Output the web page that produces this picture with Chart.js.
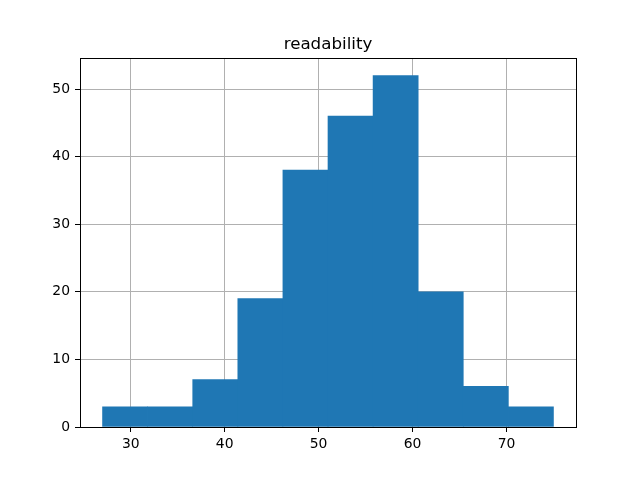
<!DOCTYPE html>
<html>
<head>
<meta charset="utf-8">
<script src="https://cdn.jsdelivr.net/npm/chart.js@4/dist/chart.umd.min.js"></script>
<style>
  html, body { margin: 0; padding: 0; background: #fff; }
  #wrap { width: 640px; height: 480px; }
</style>
</head>
<body>
<div id="wrap"><canvas id="hist" width="640" height="480"></canvas></div>
<script>
// histogram of "readability": 10 bins
const binEdges = [27, 31.8, 36.6, 41.4, 46.2, 51, 55.8, 60.6, 65.4, 70.2, 75];
const counts = [3, 3, 7, 19, 38, 46, 52, 20, 6, 3];
const xTicks = [30, 40, 50, 60, 70];
const yTicks = [0, 10, 20, 30, 40, 50];
const chartTitle = 'readability';

const points = counts.map((c, i) => ({ x: (binEdges[i] + binEdges[i + 1]) / 2, y: c }));

const FONT = 'DejaVu Sans';

// matplotlib-like frame + title over the axes
const framePlugin = {
    id: 'frame',
    afterDraw(chart) {
        const { ctx, chartArea: a } = chart;
        ctx.save();
        ctx.strokeStyle = '#000';
        ctx.lineWidth = 1;
        ctx.strokeRect(Math.round(a.left) + 0.5, Math.round(a.top) + 0.5,
            Math.round(a.right - a.left), Math.round(a.bottom - a.top));
        ctx.fillStyle = '#000';
        ctx.font = '16.7px "' + FONT + '"';
        ctx.textAlign = 'center';
        ctx.textBaseline = 'alphabetic';
        ctx.fillText(chartTitle, (a.left + a.right) / 2, a.top - 9);
        ctx.restore();
    }
};

new Chart(document.getElementById('hist'), {
    type: 'bar',
    data: {
        datasets: [{
            data: points,
            backgroundColor: '#1f77b4',
            borderWidth: 0,
            barPercentage: 1,
            categoryPercentage: 1,
            grouped: false
        }]
    },
    options: {
        responsive: false,
        animation: false,
        layout: { padding: { top: 58, right: 64, left: 0, bottom: 0 } },
        plugins: { legend: { display: false }, tooltip: { enabled: false }, title: { display: false } },
        scales: {
            x: {
                type: 'linear',
                min: 24.6,
                max: 77.4,
                offset: false,
                z: 1,
                afterBuildTicks: (s) => { s.ticks = xTicks.map(v => ({ value: v })); },
                afterFit: (s) => { s.height = 53; },
                grid: { offset: false, color: '#b0b0b0', lineWidth: 1, tickColor: '#000', tickLength: 5 },
                border: { color: '#000', width: 1 },
                ticks: { color: '#000', font: { family: FONT, size: 13.9 }, padding: 4, maxRotation: 0 }
            },
            y: {
                min: 0,
                max: 54.6,
                z: 1,
                afterBuildTicks: (s) => { s.ticks = yTicks.map(v => ({ value: v })); },
                afterFit: (s) => { s.width = 80; },
                grid: { color: '#b0b0b0', lineWidth: 1, tickColor: '#000', tickLength: 5 },
                border: { color: '#000', width: 1 },
                ticks: { color: '#000', font: { family: FONT, size: 13.9 }, padding: 5 }
            }
        }
    },
    plugins: [framePlugin]
});
</script>
</body>
</html>
